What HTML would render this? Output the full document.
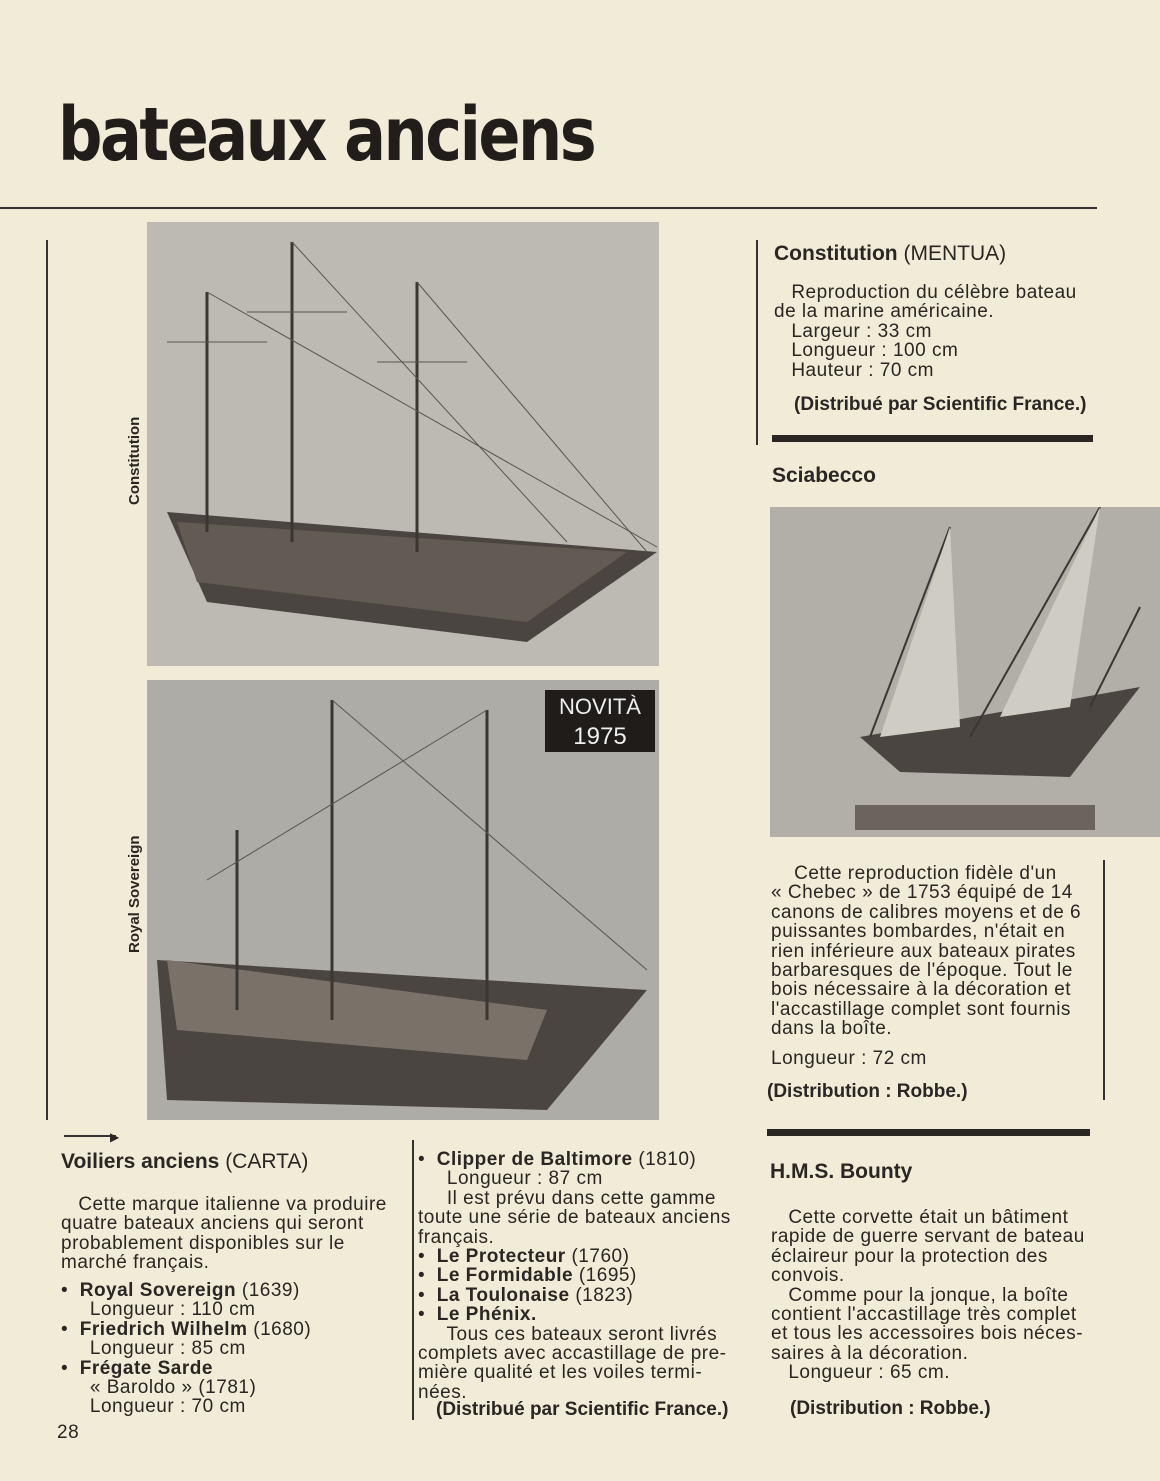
<!DOCTYPE html>
<html><head><meta charset="utf-8"><style>
body{margin:0;width:1160px;height:1481px;background:#f1ecd7;position:relative;overflow:hidden;font-family:"Liberation Sans",sans-serif;color:#2a2623}
.a{position:absolute;white-space:nowrap}
.t{font-size:19px;line-height:19.4px;letter-spacing:0.5px}
.h{font-size:21px;font-weight:bold}
.h span{font-weight:normal}
.ph{position:absolute}
b{font-weight:bold}
</style></head><body>
<div class="a" style="left:58px;top:92px;font-size:74px;font-weight:900;letter-spacing:-3px;transform:scaleX(0.84);transform-origin:left;color:#211d1b;font-family:'DejaVu Sans','Liberation Sans',sans-serif">bateaux anciens</div>
<div class="a" style="left:0;top:207px;width:1097px;height:2px;background:#333"></div>
<div class="a" style="left:46px;top:240px;width:2px;height:880px;background:#333"></div>
<div class="a" style="left:756px;top:240px;width:2px;height:205px;background:#333"></div>
<div class="a" style="left:1103px;top:860px;width:2px;height:240px;background:#333"></div>

<svg class="ph" style="left:147px;top:222px" width="512" height="444">
<rect width="512" height="444" fill="#bdbab3"/>
<polygon points="20,290 510,330 380,420 60,380" fill="#4a4540"/>
<polygon points="30,300 480,330 380,400 50,360" fill="#625b53"/>
<g stroke="#3a3632" stroke-width="3"><line x1="60" y1="70" x2="60" y2="310"/><line x1="145" y1="20" x2="145" y2="320"/><line x1="270" y1="60" x2="270" y2="330"/></g>
<g stroke="#5a554f" stroke-width="1"><line x1="60" y1="70" x2="510" y2="325"/><line x1="145" y1="20" x2="420" y2="320"/><line x1="270" y1="60" x2="500" y2="330"/><line x1="20" y1="120" x2="120" y2="120"/><line x1="100" y1="90" x2="200" y2="90"/><line x1="230" y1="140" x2="320" y2="140"/></g>
</svg>
<div class="a" style="left:126px;top:505px;transform:rotate(-90deg);transform-origin:left top;font-size:15px;font-weight:bold">Constitution</div>

<svg class="ph" style="left:147px;top:680px" width="512" height="440">
<rect width="512" height="440" fill="#aeaca7"/>
<polygon points="10,280 500,310 400,430 20,420" fill="#4a4540"/>
<polygon points="20,280 400,330 380,380 30,350" fill="#7a7268"/>
<g stroke="#3a3632" stroke-width="3"><line x1="90" y1="150" x2="90" y2="330"/><line x1="185" y1="20" x2="185" y2="340"/><line x1="340" y1="30" x2="340" y2="340"/></g>
<g stroke="#5a554f"><line x1="185" y1="20" x2="500" y2="290"/><line x1="340" y1="30" x2="60" y2="200"/></g>
<rect x="398" y="10" width="110" height="62" fill="#1f1c1a"/>
<text x="453" y="34" text-anchor="middle" fill="#eee" font-size="22" font-family="Liberation Sans">NOVITÀ</text>
<text x="453" y="64" text-anchor="middle" fill="#eee" font-size="24" font-family="Liberation Sans">1975</text>
</svg>
<div class="a" style="left:126px;top:953px;transform:rotate(-90deg);transform-origin:left top;font-size:15px;font-weight:bold">Royal Sovereign</div>

<svg class="ph" style="left:770px;top:507px" width="390" height="330">
<rect width="390" height="330" fill="#b2afa9"/>
<polygon points="90,230 370,180 300,270 130,265" fill="#4a4540"/>
<rect x="85" y="298" width="240" height="25" fill="#6a645d"/>
<g stroke="#3a3632" stroke-width="2"><line x1="100" y1="230" x2="180" y2="20"/><line x1="200" y1="230" x2="330" y2="0"/><line x1="320" y1="200" x2="370" y2="100"/></g>
<polygon points="180,20 110,230 190,220" fill="#cfccc4"/><polygon points="330,0 230,210 300,200" fill="#cfccc4"/>
</svg>

<div class="a h" style="left:774px;top:242px">Constitution <span>(MENTUA)</span></div>
<div class="a t" style="left:774px;top:283px">&nbsp;&nbsp;&nbsp;Reproduction du célèbre bateau<br>de la marine américaine.<br>&nbsp;&nbsp;&nbsp;Largeur : 33 cm<br>&nbsp;&nbsp;&nbsp;Longueur : 100 cm<br>&nbsp;&nbsp;&nbsp;Hauteur : 70 cm</div>
<div class="a t" style="left:794px;top:395px;font-weight:bold;letter-spacing:0">(Distribué par Scientific France.)</div>
<div class="a" style="left:772px;top:435px;width:321px;height:7px;background:#2a2623"></div>
<div class="a h" style="left:772px;top:464px">Sciabecco</div>
<div class="a t" style="left:771px;top:864px">&nbsp;&nbsp;&nbsp;&nbsp;Cette reproduction fidèle d'un<br>« Chebec » de 1753 équipé de 14<br>canons de calibres moyens et de 6<br>puissantes bombardes, n'était en<br>rien inférieure aux bateaux pirates<br>barbaresques de l'époque. Tout le<br>bois nécessaire à la décoration et<br>l'accastillage complet sont fournis<br>dans la boîte.</div>
<div class="a t" style="left:771px;top:1049px">Longueur : 72 cm</div>
<div class="a t" style="left:767px;top:1082px;font-weight:bold;letter-spacing:0">(Distribution : Robbe.)</div>
<div class="a" style="left:767px;top:1129px;width:323px;height:7px;background:#2a2623"></div>
<div class="a h" style="left:770px;top:1160px">H.M.S. Bounty</div>
<div class="a t" style="left:771px;top:1208px">&nbsp;&nbsp;&nbsp;Cette corvette était un bâtiment<br>rapide de guerre servant de bateau<br>éclaireur pour la protection des<br>convois.<br>&nbsp;&nbsp;&nbsp;Comme pour la jonque, la boîte<br>contient l'accastillage très complet<br>et tous les accessoires bois néces-<br>saires à la décoration.<br>&nbsp;&nbsp;&nbsp;Longueur : 65 cm.</div>
<div class="a t" style="left:790px;top:1399px;font-weight:bold;letter-spacing:0">(Distribution : Robbe.)</div>

<div class="a" style="left:64px;top:1135px;width:52px;height:2px;background:#333"></div>
<div class="a" style="left:110px;top:1130px;font-size:12px">▶</div>
<div class="a h" style="left:61px;top:1150px">Voiliers anciens <span>(CARTA)</span></div>
<div class="a t" style="left:61px;top:1195px">&nbsp;&nbsp;&nbsp;Cette marque italienne va produire<br>quatre bateaux anciens qui seront<br>probablement disponibles sur le<br>marché français.</div>
<div class="a t" style="left:61px;top:1281px">•&nbsp; <b>Royal Sovereign</b> (1639)<br>&nbsp;&nbsp;&nbsp;&nbsp; Longueur : 110 cm<br>•&nbsp; <b>Friedrich Wilhelm</b> (1680)<br>&nbsp;&nbsp;&nbsp;&nbsp; Longueur : 85 cm<br>•&nbsp; <b>Frégate Sarde</b><br>&nbsp;&nbsp;&nbsp;&nbsp; « Baroldo » (1781)<br>&nbsp;&nbsp;&nbsp;&nbsp; Longueur : 70 cm</div>
<div class="a t" style="left:57px;top:1423px">28</div>
<div class="a" style="left:412px;top:1140px;width:2px;height:280px;background:#333"></div>
<div class="a t" style="left:418px;top:1150px">•&nbsp; <b>Clipper de Baltimore</b> (1810)<br>&nbsp;&nbsp;&nbsp;&nbsp; Longueur : 87 cm<br>&nbsp;&nbsp;&nbsp;&nbsp; Il est prévu dans cette gamme<br>toute une série de bateaux anciens<br>français.<br>•&nbsp; <b>Le Protecteur</b> (1760)<br>•&nbsp; <b>Le Formidable</b> (1695)<br>•&nbsp; <b>La Toulonaise</b> (1823)<br>•&nbsp; <b>Le Phénix.</b><br>&nbsp;&nbsp;&nbsp;&nbsp; Tous ces bateaux seront livrés<br>complets avec accastillage de pre-<br>mière qualité et les voiles termi-<br>nées.</div>
<div class="a t" style="left:436px;top:1400px;font-weight:bold;letter-spacing:0">(Distribué par Scientific France.)</div>
</body></html>
